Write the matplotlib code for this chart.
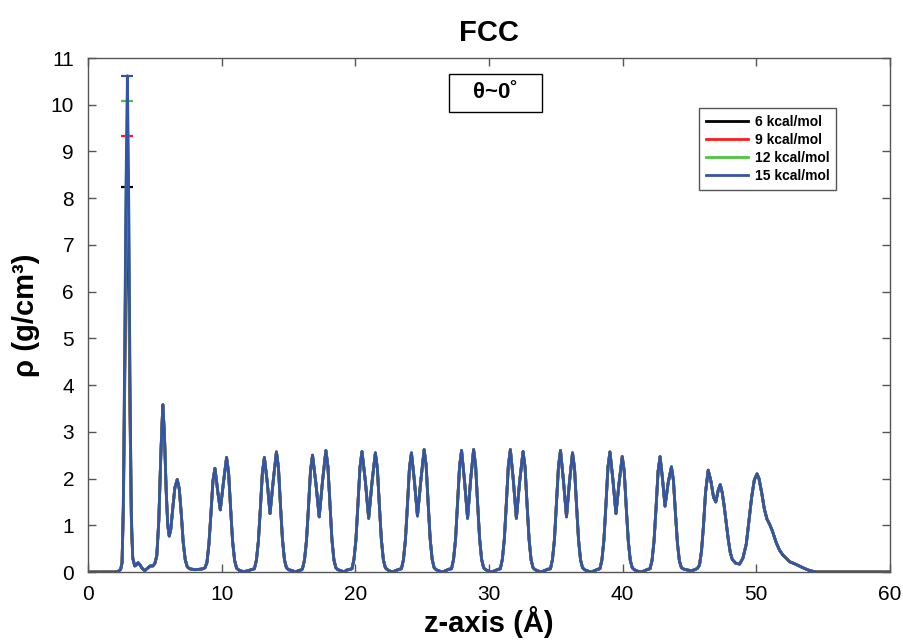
import matplotlib
matplotlib.use("Agg")
import matplotlib.pyplot as plt
from matplotlib.patches import Rectangle

plt.rcParams['font.family'] = ['Liberation Sans', 'DejaVu Sans']

# density profile along z
z_lead = [0.0, 2.0, 2.3, 2.45]
rho_lead = [0.0, 0.0, 0.02, 0.06]

# first (contact) layer, differs between the runs
z_first = [2.55, 2.65, 2.75, 2.85, 2.95, 3.05, 3.15, 3.25]
rho_first_6 = [0.2, 1.3, 3.9, 6.6, 8.25, 6.3, 3.2, 1.0]
rho_first_9 = [0.2, 1.4, 4.3, 7.4, 9.33, 7.0, 3.5, 1.1]
rho_first_12 = [0.2, 1.5, 4.6, 8.0, 10.07, 7.6, 3.7, 1.15]
rho_first_15 = [0.2, 1.6, 4.8, 8.4, 10.62, 8.0, 3.9, 1.2]

# remaining layers (nearly identical for all runs)
z_rest = [3.35, 3.5, 3.62, 3.75, 3.9, 4.05, 4.25, 4.45, 4.65, 4.85,
          5.0, 5.15, 5.3, 5.45, 5.6, 5.72, 5.85, 5.97, 6.08, 6.2, 6.35, 6.5, 6.68, 6.83, 6.98, 7.13, 7.28, 7.43, 7.6, 8.0, 8.4, 8.6,
          8.75, 8.9, 9.05, 9.2, 9.35, 9.5, 9.72, 9.9, 10.15, 10.37, 10.52, 10.67, 10.82, 10.97, 11.12, 11.3, 11.6, 11.9, 12.2,
          12.45, 12.6, 12.75, 12.9, 13.05, 13.2, 13.42, 13.62, 13.87, 14.1, 14.25, 14.4, 14.55, 14.7, 14.85, 15.0, 15.3, 15.5, 15.75, 16.0,
          16.05, 16.2, 16.35, 16.5, 16.65, 16.8, 17.05, 17.3, 17.55, 17.8, 17.95, 18.1, 18.25, 18.4, 18.55, 18.7, 19.0, 19.15, 19.35, 19.6,
          19.75, 19.9, 20.05, 20.2, 20.35, 20.5, 20.75, 21.0, 21.25, 21.5, 21.65, 21.8, 21.95, 22.1, 22.25, 22.4, 22.6, 22.8, 23.0, 23.3,
          23.45, 23.6, 23.75, 23.9, 24.05, 24.2, 24.42, 24.65, 24.9, 25.15, 25.3, 25.45, 25.6, 25.75, 25.9, 26.05, 26.3, 26.55, 26.75, 27.0,
          27.2, 27.35, 27.5, 27.65, 27.8, 27.95, 28.17, 28.4, 28.62, 28.85, 29.0, 29.15, 29.3, 29.45, 29.6, 29.75, 30.0, 30.2, 30.45, 30.7,
          30.85, 31.0, 31.15, 31.3, 31.45, 31.6, 31.82, 32.05, 32.3, 32.55, 32.7, 32.85, 33.0, 33.15, 33.3, 33.45, 33.7, 33.9, 34.15, 34.4,
          34.6, 34.75, 34.9, 35.05, 35.2, 35.35, 35.57, 35.8, 36.02, 36.25, 36.4, 36.55, 36.7, 36.85, 37.0, 37.15, 37.4, 37.65, 37.9, 38.15,
          38.3, 38.45, 38.6, 38.75, 38.9, 39.05, 39.27, 39.5, 39.73, 39.97, 40.12, 40.27, 40.42, 40.57, 40.72, 40.87, 41.1, 41.4, 41.65, 41.9,
          42.05, 42.2, 42.35, 42.5, 42.65, 42.8, 42.98, 43.17, 43.4, 43.65, 43.8, 43.95, 44.1, 44.25, 44.4, 44.6, 44.9, 45.15, 45.4, 45.6,
          45.75, 45.9, 46.05, 46.2, 46.4, 46.6, 46.8, 46.97, 47.15, 47.3, 47.45, 47.6, 47.75, 47.9, 48.05, 48.2, 48.45, 48.75,
          49.0, 49.25, 49.45, 49.65, 49.85, 50.05, 50.2, 50.4, 50.6, 50.8, 51.0, 51.2, 51.5, 51.75, 52.0, 52.5, 53.0, 53.5, 54.0, 54.5, 60.0]
rho_rest = [0.3, 0.13, 0.15, 0.2, 0.15, 0.08, 0.03, 0.08, 0.13, 0.13,
            0.18, 0.35, 1.1, 2.5, 3.58, 2.95, 1.75, 1.0, 0.77, 0.92, 1.38, 1.8, 1.98, 1.78, 1.25, 0.62, 0.26, 0.11, 0.07, 0.05, 0.06, 0.07,
            0.09, 0.2, 0.6, 1.25, 1.95, 2.22, 1.7, 1.33, 1.95, 2.45, 2.13, 1.37, 0.66, 0.25, 0.08, 0.04, 0.01, 0.02, 0.05,
            0.07, 0.25, 0.66, 1.37, 2.13, 2.45, 1.9, 1.25, 1.98, 2.57, 2.24, 1.44, 0.7, 0.26, 0.09, 0.05, 0.03, 0.0, 0.03, 0.05,
            0.07, 0.26, 0.68, 1.4, 2.17, 2.5, 1.9, 1.18, 1.95, 2.6, 2.26, 1.46, 0.7, 0.26, 0.09, 0.05, 0.02, 0.0, 0.04, 0.06,
            0.07, 0.27, 0.7, 1.45, 2.24, 2.58, 1.95, 1.15, 1.92, 2.55, 2.22, 1.43, 0.69, 0.26, 0.09, 0.05, 0.02, 0.0, 0.03, 0.06,
            0.07, 0.26, 0.69, 1.43, 2.22, 2.55, 1.95, 1.2, 1.95, 2.62, 2.28, 1.47, 0.71, 0.27, 0.09, 0.05, 0.02, 0.0, 0.03, 0.06,
            0.07, 0.27, 0.7, 1.46, 2.26, 2.6, 1.95, 1.15, 1.95, 2.62, 2.28, 1.47, 0.71, 0.27, 0.09, 0.05, 0.02, 0.0, 0.03, 0.06,
            0.07, 0.27, 0.71, 1.47, 2.28, 2.62, 1.97, 1.15, 1.95, 2.58, 2.24, 1.44, 0.7, 0.26, 0.09, 0.05, 0.02, 0.0, 0.03, 0.06,
            0.07, 0.27, 0.7, 1.46, 2.26, 2.6, 1.96, 1.18, 1.92, 2.55, 2.22, 1.43, 0.69, 0.26, 0.09, 0.05, 0.02, 0.0, 0.03, 0.06,
            0.07, 0.26, 0.69, 1.44, 2.24, 2.57, 1.98, 1.25, 1.9, 2.47, 2.15, 1.38, 0.67, 0.25, 0.09, 0.05, 0.02, 0.0, 0.03, 0.06,
            0.07, 0.25, 0.67, 1.38, 2.15, 2.47, 2.0, 1.41, 1.9, 2.25, 1.96, 1.26, 0.61, 0.23, 0.09, 0.06, 0.04, 0.03, 0.05, 0.08,
            0.15, 0.45, 1.0, 1.7, 2.18, 1.95, 1.6, 1.5, 1.75, 1.87, 1.7, 1.4, 1.05, 0.7, 0.42, 0.27, 0.19, 0.17,
            0.3, 0.6, 1.1, 1.6, 1.97, 2.1, 2.0, 1.7, 1.35, 1.13, 1.02, 0.88, 0.62, 0.46, 0.36, 0.22, 0.16, 0.09, 0.03, 0.0, 0.0]

labels = ['6 kcal/mol', '9 kcal/mol', '12 kcal/mol', '15 kcal/mol']
colors = ['black', '#ff1a1a', '#4cc63c', '#3454a8']
first_peaks = [rho_first_6, rho_first_9, rho_first_12, rho_first_15]

fig = plt.figure(figsize=(9.04, 6.41), dpi=100)
ax = fig.add_axes([0.0973, 0.1076, 0.8872, 0.8019])

for lab, col, fp in zip(labels, colors, first_peaks):
    z = z_lead + z_first + z_rest
    rho = rho_lead + fp + rho_rest
    ax.plot(z, rho, color=col, linewidth=2.0, label=lab)
    # horizontal cap at the top of the contact peak
    i = rho.index(max(rho))
    ax.plot([z[i]], [rho[i]], marker='_', markersize=8, mew=1.6, color=col)

ax.set_xlim(0, 60)
ax.set_ylim(0, 11)
ax.set_xticks(range(0, 61, 10))
ax.set_yticks(range(0, 12))
ax.tick_params(direction='in', length=6, width=1, top=True, right=True,
               labelsize=15, color='#555555')
ax.tick_params(axis='x', pad=9)
ax.tick_params(axis='y', pad=10)
for s in ax.spines.values():
    s.set_color('#555555')
    s.set_linewidth(1.0)

ax.set_title('FCC', fontsize=21, fontweight='bold', pad=12)
ax.set_xlabel('z-axis (Å)', fontsize=21, fontweight='bold', labelpad=2)
ax.set_ylabel('ρ (g/cm³)', fontsize=21, fontweight='bold', labelpad=8)

leg = ax.legend(loc='upper left', bbox_to_anchor=(0.762, 0.903), borderaxespad=0,
                frameon=True, fancybox=False, edgecolor='#555555', framealpha=1,
                prop={'size': 10, 'weight': 'bold'}, handlelength=3.0,
                handletextpad=0.5, labelspacing=0.3, borderpad=0.5)
leg.get_frame().set_linewidth(1.0)

ax.add_patch(Rectangle((0.450, 0.895), 0.116, 0.074, transform=ax.transAxes,
                       fill=False, edgecolor='black', linewidth=1.0))
ax.text(0.508, 0.933, 'θ~0˚', transform=ax.transAxes, ha='center', va='center',
        fontsize=16, fontweight='bold')

fig.savefig('out.png', dpi=100)
